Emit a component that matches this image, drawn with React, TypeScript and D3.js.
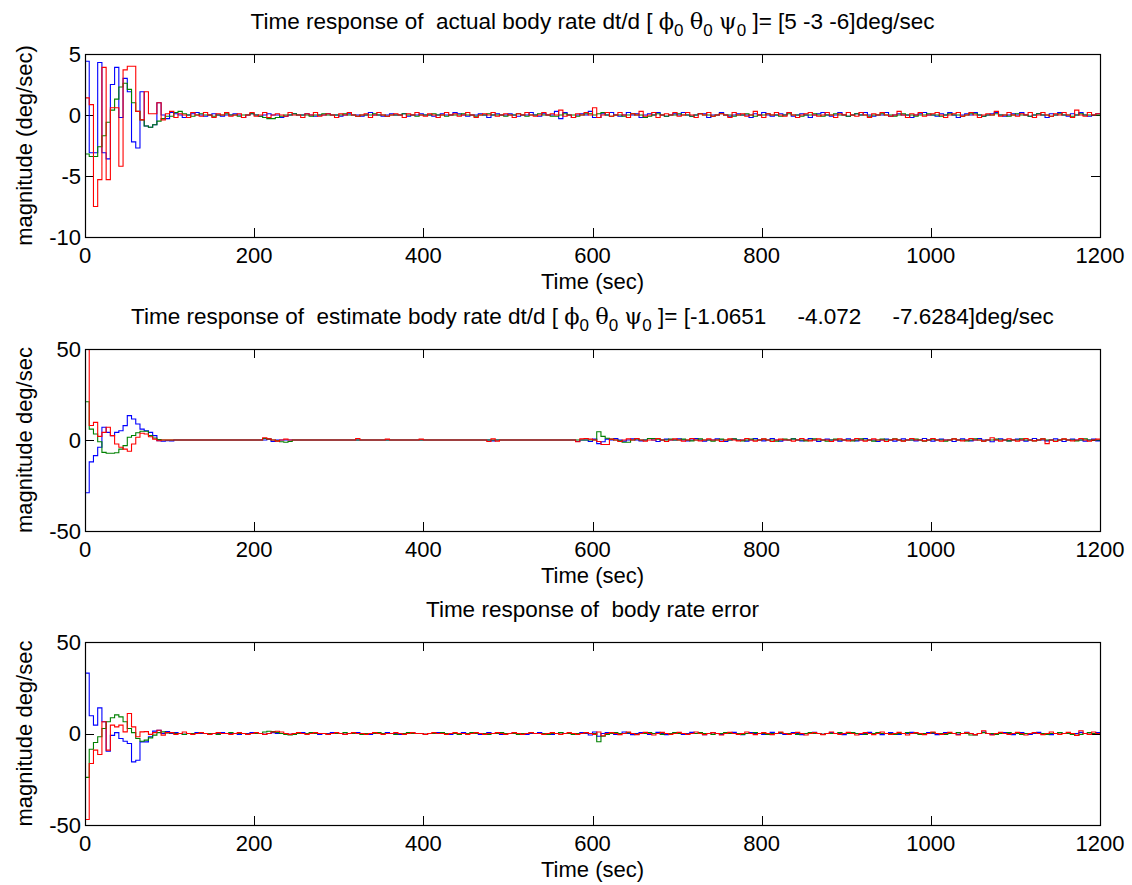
import React from "react";
import * as d3 from "d3";

const width = 1132;
const height = 885;
const plotLeft = 85;
const plotRight = 1100;
const tickLen = 9;
const dt = 5; // sample period of the stairs (sec)
const tMax = 1200;

const xTicks = [0, 200, 400, 600, 800, 1000, 1200];
const actualTicks = [5, 0, -5, -10];
const estimateTicks = [50, 0, -50];
const errorTicks = [50, 0, -50];

const seriesColors = ["#0000ff", "#008000", "#ff0000"];

// ---- actual body rate (deg/sec), one value every 5 s ----
const actualBlue = [
  4.4, -3.1, -3.1, 4.3, -3.1, -3.6, 2.5, 3.9, -0.2, 3.0, 1.9, -2.2, -2.7, 1.9, -0.9, -1.0, -0.8, 1.0, 0, -0.3,
  0.2, 0.1, 0, -0.2, 0, 0.1, 0.2, 0, -0.1, 0, 0.1, 0, -0.1, 0, 0, 0.1, 0, -0.2, 0, 0.1,
  0, -0.1, 0, 0.1, 0, 0, -0.2, -0.1, 0, 0.1, 0, 0, 0.1, 0, -0.1, 0, 0, 0.1, 0, 0,
  -0.1, 0, 0.1, 0, 0, -0.1, 0, 0.2, 0, 0, -0.1, 0, 0.1, 0, 0, 0.1, -0.1, 0, 0, 0.1,
  0, 0, -0.1, 0, 0.1, 0, 0, 0.2, 0.1, 0, -0.1, 0, 0, 0.1, 0, -0.2, 0, 0.1, 0, 0,
  0.1, 0, -0.1, 0, 0, 0.2, 0, -0.1, 0.1, 0, 0, 0.3, -0.3, 0.2, 0, -0.2, 0, 0.1, 0, 0.3,
  -0.2, -0.2, 0.1, 0, 0.2, 0, -0.1, 0, 0.2, 0, 0.1, -0.2, 0, 0.1, 0, 0.2, 0, -0.1, 0, 0.1,
  0, 0.2, 0, -0.1, 0, 0.1, 0.1, -0.2, 0, 0, 0.2, 0, -0.1, 0, 0.1, 0, 0, -0.2, 0.1, 0,
  0.2, 0, -0.1, 0, 0.1, 0, 0.2, -0.1, 0, 0.1, 0, -0.2, 0, 0.1, 0.2, 0, -0.1, 0, 0.2, 0,
  -0.1, 0, 0.1, 0, 0.2, 0, -0.1, 0, 0, 0.2, -0.1, 0, 0.1, 0, 0, -0.2, 0, 0.1, 0.2, 0,
  0, -0.1, 0.1, 0, 0.2, 0, -0.2, 0, 0.1, 0, 0.2, 0, -0.1, 0, 0.1, 0.2, 0, -0.1, 0, 0.1,
  0, 0.2, 0, -0.1, 0, 0.1, 0, -0.2, 0.1, 0, 0.2, 0, -0.1, 0.1, 0, 0.2, 0, -0.1, 0, 0.1,
];
const actualGreen = [
  -3.2, -3.4, -3.4, -2.6, -1.7, -0.6, 0.4, 1.3, 2.3, 2.6, 2.1, 1.0, 0.3, -0.4, -0.9, -1.0, -0.8, -0.5, -0.3, -0.1,
  -0.1, 0.2, 0.3, 0.1, 0, -0.1, 0, 0.1, 0, 0, -0.1, 0, 0, 0.1, 0, 0, -0.1, 0, 0, 0.1,
  0, -0.1, -0.2, -0.3, -0.3, -0.2, -0.1, 0, 0, 0.1, 0, 0, 0, -0.1, 0, 0, 0.1, 0, 0, 0,
  0, 0.1, 0, 0, -0.1, 0, 0, 0, 0.1, 0, 0, -0.1, 0, 0, 0, 0.1, 0, 0, -0.1, 0,
  0, 0, 0.1, 0, 0, -0.1, 0, 0, 0, 0.1, 0, 0, -0.1, 0, 0, 0.1, 0, 0, 0, -0.1,
  0, 0, 0.1, 0, -0.1, 0, 0, 0.1, 0, 0, -0.1, -0.1, 0, 0.1, 0, 0, -0.1, 0, 0.1, 0.1,
  0, 0.1, 0.2, 0, -0.1, 0, 0, -0.1, 0, 0.1, 0, 0, -0.2, -0.1, 0, 0.1, 0, -0.1, 0, 0,
  0.1, 0, 0, -0.1, 0, 0.1, 0, 0, -0.1, 0, 0.1, 0, 0, -0.1, 0, 0, 0.1, 0, -0.1, 0,
  0, 0.1, 0, 0, -0.1, 0, 0.1, 0, 0, -0.1, 0, 0, 0.1, 0, -0.1, 0, 0, 0.1, 0, 0,
  -0.1, 0, 0.1, 0, 0, -0.1, 0, 0, 0.1, 0, 0, -0.1, 0, 0.1, 0, 0, -0.1, 0, 0, 0.1,
  0, 0, -0.1, 0, 0.1, 0, 0, -0.1, 0, 0.1, 0.1, 0, -0.1, 0, 0, 0.1, 0, 0, -0.1, 0,
  0.1, 0, 0, -0.1, 0, 0.1, 0, 0, -0.1, 0, 0.1, 0, 0, -0.1, 0, 0.1, 0, 0, 0, 0,
];
const actualRed = [
  1.4, 0.85, -7.5, -5.3, 3.9, -5.3, 0.6, 0.6, -4.2, 3.7, 4.0, 4.0, 0.3, -0.4, 1.9, 0.1, 0.1, 1.0, -0.4, 0.1,
  0.3, -0.2, 0.1, 0, -0.2, 0.2, 0, -0.1, 0.2, 0, -0.2, 0.1, 0, 0.2, -0.1, 0, 0.1, -0.2, 0, 0.2,
  -0.1, 0, 0.2, -0.2, 0, 0.1, 0, -0.1, 0.2, 0, 0, -0.2, 0.1, 0, 0.2, -0.1, 0, 0.1, 0, -0.2,
  0.1, 0, 0.2, 0, -0.1, 0, 0.1, -0.2, 0, 0.2, 0, -0.1, 0, 0.1, 0, -0.2, 0.1, 0, 0.2, 0,
  -0.1, 0.1, 0, -0.2, 0, 0.2, 0, 0.1, -0.1, 0, 0.2, 0, -0.2, 0, 0.1, 0, 0.2, -0.1, 0, 0.1,
  0, -0.2, 0.1, 0, 0.2, 0, -0.1, 0, 0.2, 0, 0.1, 0, 0.4, -0.1, 0, -0.2, 0.1, 0, 0.2, 0,
  0.6, -0.2, 0, 0.2, -0.1, 0, 0.2, 0, -0.2, 0.1, 0, 0.3, -0.1, 0, 0.2, -0.2, 0, 0.1, 0, 0.2,
  -0.1, 0, 0.2, 0, -0.2, 0.1, 0, 0.2, -0.1, 0, 0.1, 0, -0.2, 0.2, 0, 0.1, -0.1, 0, 0.3, 0,
  -0.2, 0.1, 0, 0.2, 0, -0.1, 0.2, 0, -0.2, 0, 0.1, 0.2, 0, -0.1, 0, 0.2, 0, -0.2, 0.1, 0,
  0.2, 0, -0.1, 0.2, 0, -0.2, 0.1, 0, 0.2, 0, -0.1, 0, 0.3, 0, -0.2, 0.1, 0, 0.2, -0.1, 0,
  0.1, 0.2, 0, -0.2, 0, 0.1, 0.2, -0.1, 0, 0.2, 0, -0.2, 0, 0.1, 0, 0.3, -0.1, 0, 0.2, 0,
  -0.1, 0.1, 0, 0.2, -0.2, 0, 0.2, 0, -0.1, 0.1, 0, 0.2, 0, -0.2, 0.4, 0, -0.1, 0.2, 0, 0.1,
];

// ---- estimated body rate (deg/sec) ----
const estimateBlue = [
  -29, -12, -8.6, -4, 7, 4.2, 2.4, 4.2, 5.1, 7.9, 13.4, 11.5, 8.8, 6, 5.1, 4.2, 2.4, -0.4, -0.7, -0.4,
  -0.5, 0, 0, 0, 0, 0, 0, 0, 0, 0, 0, 0, 0, 0, 0, 0, 0, 0, 0, 0,
  0, 0, 0, 0.5, -0.8, 0, 0, 0, 0, 0, 0, 0, 0, 0, 0, 0, 0, 0, 0, 0,
  0, 0, 0, 0, 0, 0, 0, 0, 0, 0, 0, 0, 0, 0, 0, 0, 0, 0, 0, 0,
  0, 0, 0, 0, 0, 0, 0, 0, 0, 0, 0, 0, 0, 0, 0, 0, -0.5, 0, 0, 0,
  0, 0, 0, 0, 0, 0, 0, 0, 0, 0, 0, 0, 0, 0, 0, 0, -0.8, 0, 0, -0.8,
  0.5, -2, -1, 0.5, 0, 0.8, 0, -0.6, 0, 0.6, 0, -0.5, 0, 0.8, 0, -0.8, 0, 0.5, 0, 0,
  0.6, 0, -0.5, 0, 0.8, 0, -0.6, 0, 0, 0.6, 0, -0.8, 0, 0.5, 0, 0, -0.6, 0, 0.8, 0,
  -0.5, 0, 0.8, 0, -0.6, 0, 0, 0.6, 0, -0.5, 0, 0.8, 0, -0.8, 0, 0.5, 0, 0, -0.6, 0,
  0.6, 0, -0.5, 0, 0.8, 0, 0, -0.8, 0, 0.5, 0, -0.6, 0, 0.6, 0, 0, -0.5, 0, 0.8, 0,
  -0.6, 0, 0.5, 0, 0, -0.8, 0, 0.6, 0, -0.5, 0, 0.8, 0, 0, -1, 0, 0.6, 0, -0.5, 0,
  0.5, 0, -0.6, 0, 0.8, 0, 0, -0.5, 0, 0.6, 0, -0.8, 0, 0.5, 0, 0, -0.6, 0, 0.5, -0.5,
];
const estimateGreen = [
  21, 6, 3.3, -1, -6.8, -7.3, -7.3, -7, -5, -3.1, 1.5, 2.5, 4, 4.8, 4.8, 2.4, 1.1, 0.3, 0, 0,
  0, 0, 0, 0, 0, 0, 0, 0, 0, 0, 0, 0, 0, 0, 0, 0, 0, 0, 0, 0,
  0, 0, 0.8, 0.5, 0, -0.5, -1, -1.2, -0.8, 0, 0, 0, 0, 0, 0, 0, 0, 0, 0, 0,
  0, 0, 0, 0, 0, 0, 0, 0, 0, 0, 0, 0, 0, 0, 0, 0, 0, 0, 0, 0,
  0, 0, 0, 0, 0, 0, 0, 0, 0, 0, 0, 0, 0, 0, 0, 0, 0, 0, 0, 0,
  0, 0, 0, 0, 0, 0, 0, 0, 0, 0, 0, 0, 0, 0, 0, 0, 0, 0, 0, 0,
  0, 4.5, 2, 1, 0.5, 0, -0.5, -1.2, -1.2, 0, 0.6, 0, 0, 0.8, 0.8, 0.5, 0, 0, 0.5, 0,
  0, 0.5, 0, -0.5, 0, 0.6, 0, 0, -0.6, 0, 0.5, 0, 0, 0.6, 0, -0.5, 0, 0.5, 0, 0,
  0.5, 0, 0, -0.6, 0, 0.5, 0, 0.6, 0, 0, -0.5, 0, 0.6, 0, 0, -0.6, 0, 0.5, 0, 0,
  0, -0.5, 0, 0.6, 0, 0, -0.6, 0, 0.5, 0, 0, 0.6, 0, -0.5, 0, 0, 0.5, 0, -0.6, 0,
  0.5, 0, 0, -0.6, 0, 0.6, 0, 0, -0.5, 0, 0.6, 0, -0.6, 0, 0, 0.5, 0, 0, -0.5, 0,
  0, 0.6, 0, 0, -0.5, 0, 0.6, 0, 0, -0.6, 0, 0.5, 0, 0, -0.5, 0, 0.6, 0, 0, 0,
];
const estimateRed = [
  50, 8, 9.7, 2, 4.2, 7, 2.4, -2.2, -4, -5, -6.2, -2.2, 1.5, 3.7, 3.3, 1.8, 0.5, -0.4, 0, 0,
  0, 0, 0, 0, 0, 0, 0, 0, 0, 0, 0, 0, 0, 0, 0, 0, 0, 0, 0, 0,
  0, 0, 1.2, 0.6, 0, -0.6, 0, 0.5, 0, 0, 0, 0, 0, 0, 0, 0, 0, 0, 0, 0,
  0, 0, 0, 0, 0.8, 0, 0, 0, 0, 0, 0, 0.5, 0, 0, 0, 0, 0, 0, 0, 0.5,
  0, 0, 0, 0, 0, 0, 0, 0, 0, 0, 0, 0, 0, 0, 0, -0.8, 0.6, -0.6, 0, 0,
  0, 0, 0, 0, 0, 0, 0, 0, 0, 0, 0, 0, 0, 0, 0, 0, -1, 0.6, 0.8, 0.5,
  0, -0.8, -2.5, -2.5, 0.5, 0, -0.8, 0, 0.6, 0, 0.8, 0, -0.6, 0, 0, 0.8, 0, -0.8, 0, 0.6,
  0, -0.6, 0, 0.8, 0, -0.5, 0, 0.6, 0, 0, -0.8, 0, 0.6, 0, -0.5, 0, 0.8, 0, -0.6, 0,
  0.6, 0, -0.8, 0, 0.5, 0, 0, -0.6, 0, 0.8, 0, -0.5, 0, 0.6, 0, 0, -0.8, 0, 0.6, 0,
  -0.5, 0, 0.8, 0, -0.6, 0, 0.6, 0, 0, -0.8, 0, 0.5, 0, -0.6, 0, 0.8, 0, 0, -0.5, 0,
  0.8, 0, -0.6, 0, 0, 0.6, 0, -0.5, 0, 0.8, 0, 0, -0.6, 0, 1.2, 0, -0.6, 0, 0.6, 0,
  -0.6, 0, 0.8, 0, -0.5, 0, 0.6, -2, 0, -0.8, 0, 0.6, 0, -0.5, 0, 0.8, 0, -0.6, 0, 0.5,
];

// ---- body rate error (deg/sec) ----
const errorBlue = [
  33, 9.7, 4.6, 14, 6.4, -9.7, -1, 0.5, -2.7, -4.2, -5.5, -15.5, -14.6, -4.6, -4.6, -1.8, 1.3, 1.8, 0, 1,
  0, 0.5, 0, -0.5, 0, 0, 0.5, 0, 0, -0.5, 0, 0, 0.5, 0, 0, 0, -0.5, 0, 0, 0.5,
  0, 0, -0.5, 0, 0.5, 0, 0, 0, -0.5, 0, 0, 0.5, 0, 0, 0, -0.5, 0, 0, 0.5, 0,
  0, -0.5, 0, 0, 0.5, 0, 0, -0.5, 0, 0, 0, 0.5, 0, 0, -0.5, 0, 0, 0.5, 0, 0,
  -0.5, 0, 0, 0.5, 0, 0, -0.5, 0, 0, 0.5, 0, 0, 0, -0.5, 0, 0.5, 0, 0, -0.5, 0,
  0, 0.5, 0, 0, -0.5, 0, 0, 0.5, 0, 0, -0.5, 0, 0.5, 0, 0, -0.5, 0, 0.5, 0, -0.8,
  0.8, -1.5, 0, 0.5, 0, -0.5, 0, 0.8, 0, -0.6, 0, 0.5, 0, -0.5, 0, 0.6, 0, -0.6, 0, 0.5,
  0, -0.5, 0, 0.6, 0, 0, -0.6, 0, 0.5, 0, -0.5, 0, 0, 0.6, 0, -0.6, 0, 0.5, 0, 0,
  -0.5, 0, 0.6, 0, 0, -0.5, 0, 0.5, 0, -0.6, 0, 0, 0.6, 0, -0.5, 0, 0.5, 0, 0, -0.6,
  0, 0.5, 0, -0.5, 0, 0.6, 0, 0, -0.6, 0, 0.5, 0, -0.5, 0, 0, 0.6, 0, -0.5, 0, 0.5,
  0, -0.6, 0, 0.5, 0, 0, -0.5, 0, 0.6, 0, -0.6, 0, 0.8, 0, -0.5, 0, 0, 0.5, 0, -0.6,
  0, 0.5, 0, -0.5, 0, 0.6, 0, 0, -0.6, 0, 0.5, 0, 0, -0.5, 0, 0.6, 0, -0.5, 0, 0.5,
];
const errorGreen = [
  -24, -8.6, -4.9, -1.8, 2.7, 6.4, 8.6, 10.2, 9.1, 6.4, 2.7, 0.5, -2.7, -4.2, -3.6, -2.4, -0.9, 0.5, 0.9, 0.3,
  0.5, 0, 0, -0.5, 0, 0, 0, 0.5, 0, 0, 0, -0.5, 0, 0, 0.5, 0, 0, 0, -0.5, 0,
  0, 0, 0.8, 1.2, 1, 0.6, 0, -0.5, -0.8, -0.5, 0, 0, 0, 0.5, 0, 0, 0, -0.5, 0, 0,
  0, 0.5, 0, 0, 0, -0.5, 0, 0, 0, 0.5, 0, 0, 0, -0.5, 0, 0, 0.5, 0, 0, 0,
  -0.5, 0, 0, 0, 0.5, 0, 0, 0, -0.5, 0, 0, 0.5, 0, 0, 0, -0.5, 0, 0, 0.5, 0,
  0, 0, -0.5, 0, 0, 0.5, 0, 0, 0, -0.5, 0, 0, 0.5, 0, 0, -0.5, 0, 0, 0.5, 0,
  0, -4.5, -1.5, -0.5, 0, 0.5, 0, 0, 0.5, 0, -0.5, 0, 0, 0.5, 0, 0, -0.5, 0, 0, 0.5,
  0, 0, -0.5, 0, 0, 0.5, 0, 0, -0.5, 0, 0, 0.5, 0, 0, 0, -0.5, 0, 0, 0.5, 0,
  0, -0.5, 0, 0, 0.5, 0, 0, 0, -0.5, 0, 0, 0.5, 0, 0, -0.5, 0, 0, 0, 0.5, 0,
  0, 0.5, 0, 0, -0.5, 0, 0, 0.5, 0, 0, 0, -0.5, 0, 0, 0.5, 0, 0, -0.5, 0, 0,
  0.5, 0, 0, -0.5, 0, 0, 0.5, 0, 0, -0.8, -0.8, 0, 0.5, 0, 0, -0.5, 0, 0, 0.5, 0,
  0, -0.5, 0, 0, 0.5, 0, 0, -0.5, 0, 0, 0.5, 0, 0, -0.5, -1, -0.5, 0, 0.5, 0, 0,
];
const errorRed = [
  -47, -16.4, -9.1, -11.5, 6.4, -9.1, 4.6, 3.6, 4.6, 0.9, 10.9, 3.6, -1.8, 0.9, 1.0, -0.5, 0.5, 1.8, -0.9, 0.5,
  0.5, -0.5, 0, 0.8, 0, -0.5, 0, 0.5, 0, -0.5, 0, 0.5, 0, 0, -0.5, 0, 0.5, 0, -0.5, 0,
  0.5, 0, -0.5, 0, 0.8, 1.2, 0.8, 0, -0.5, 0, 0.5, 0, -0.5, 0, 0.5, 0, 0, -0.5, 0, 0.5,
  0, -0.5, 0, 0.5, 0, 0, -0.5, 0, 0.5, 0, -0.5, 0, 0, 0.5, 0, -0.5, 0, 0.5, 0, 0,
  -0.5, 0, 0.5, 0, 0, -0.5, 0, 0.5, 0, 0, -0.5, 0, 0.5, 0, -0.5, 0, 0, 0.5, 0, -0.5,
  0, 0.5, 0, -0.5, 0, 0.5, 0, 0, -0.5, 0, 0.5, 0, -0.5, 0, 0.5, 0, -0.5, 0, 0.5, 0,
  -0.5, 0.8, -1.2, 0, 0.5, 0, -0.6, 0, 0.8, 0, -0.6, 0, 0.6, 0, -0.8, 0, 0.6, 0, -0.5, 0,
  0.6, 0, -0.5, 0, 0.8, 0, -0.6, 0, 0.5, 0, -0.8, 0, 0.6, 0, -0.5, 0, 0.8, 0, -0.6, 0,
  0.5, 0, -0.6, 0, 0.8, 0, -0.5, 0, 0.6, 0, -0.8, 0, 0.5, 0, -0.6, 0, 0.8, 0, -0.5, 0,
  0.6, 0, -0.8, 0, 0.5, 0, -0.6, 0, 0.8, 0, -0.5, 0, 0.6, 0, -0.8, 0, 0.5, 0, -0.6, 0,
  0.8, 0, -0.5, 0, 0.6, 0, -0.8, 0, 0.5, 0, -0.6, 0, 1.5, 0, -0.8, 0, 0.6, 0, -0.5, 0,
  0.6, 0, -0.8, 0, 0.5, 0, -0.6, 0, 0.8, 0, -0.5, 0, 0.6, 0, -1, 1.5, 0, -0.5, 0.8, 0,
];

const fontFamily = "'Liberation Sans', Arial, Helvetica, sans-serif";
const greekFamily = "'DejaVu Serif', 'Liberation Serif', serif";

type Panel = {
  top: number;
  bottom: number;
  domain: [number, number];
  ticks: number[];
  ylabel: string;
  series: number[][];
  title: "actual" | "estimate" | "error";
};

const panels: Panel[] = [
  { top: 54, bottom: 237, domain: [-10, 5], ticks: actualTicks, ylabel: "magnitude (deg/sec)", series: [actualBlue, actualGreen, actualRed], title: "actual" },
  { top: 349, bottom: 531, domain: [-50, 50], ticks: estimateTicks, ylabel: "magnitude deg/sec", series: [estimateBlue, estimateGreen, estimateRed], title: "estimate" },
  { top: 642, bottom: 825, domain: [-50, 50], ticks: errorTicks, ylabel: "magnitude deg/sec", series: [errorBlue, errorGreen, errorRed], title: "error" },
];

const x = d3.scaleLinear().domain([0, tMax]).range([plotLeft, plotRight]);

function BodyRateTitle({ kind, y }: { kind: string; y: number }) {
  // greek letter followed by a lowered "0"
  const sub = (s: string) => [
    <tspan key={s + "g"} fontFamily={greekFamily}>{s}</tspan>,
    <tspan key={s + "s"} dy={7} fontSize={17}>0</tspan>,
    <tspan key={s + "r"} dy={-7}> </tspan>,
  ];
  if (kind === "error") {
    return (
      <text x={(plotLeft + plotRight) / 2} y={y} textAnchor="middle" fontSize={22.5} style={{ whiteSpace: "pre" }}>
        {"Time response of  body rate error"}
      </text>
    );
  }
  const head = kind === "actual" ? "Time response of  actual body rate dt/d [ " : "Time response of  estimate body rate dt/d [ ";
  const tail = kind === "actual" ? "]= [5 -3 -6]deg/sec" : "]= [-1.0651     -4.072     -7.6284]deg/sec";
  return (
    <text x={(plotLeft + plotRight) / 2} y={y} textAnchor="middle" fontSize={22.5} style={{ whiteSpace: "pre" }}>
      <tspan>{head}</tspan>
      {sub("\u03D5")}
      {sub("\u03B8")}
      {sub("\u03C8")}
      <tspan>{tail}</tspan>
    </text>
  );
}

function PanelView({ p, idx }: { p: Panel; idx: number }) {
  const y = d3.scaleLinear().domain(p.domain).range([p.bottom, p.top]);
  const line = d3
    .line<[number, number]>()
    .x((d) => x(d[0]))
    .y((d) => y(d[1]))
    .curve(d3.curveStepAfter);
  const clipId = `clip${idx}`;
  const midY = (p.top + p.bottom) / 2;
  return (
    <g>
      <clipPath id={clipId}>
        <rect x={plotLeft} y={p.top} width={plotRight - plotLeft + 1} height={p.bottom - p.top + 1} />
      </clipPath>
      <BodyRateTitle kind={p.title} y={p.top - 25} />
      {/* ticks point inward, on all four sides */}
      {xTicks.map((t) => (
        <g key={"xt" + t} stroke="#000" strokeWidth={1}>
          <line x1={Math.round(x(t)) + 0.5} x2={Math.round(x(t)) + 0.5} y1={p.bottom} y2={p.bottom - tickLen} />
          <line x1={Math.round(x(t)) + 0.5} x2={Math.round(x(t)) + 0.5} y1={p.top} y2={p.top + tickLen} />
        </g>
      ))}
      {p.ticks.map((t) => (
        <g key={"yt" + t} stroke="#000" strokeWidth={1}>
          <line x1={plotLeft} x2={plotLeft + tickLen} y1={Math.round(y(t)) + 0.5} y2={Math.round(y(t)) + 0.5} />
          <line x1={plotRight} x2={plotRight - tickLen} y1={Math.round(y(t)) + 0.5} y2={Math.round(y(t)) + 0.5} />
        </g>
      ))}
      <g clipPath={`url(#${clipId})`}>
        {p.series.map((vals, i) => {
          const pts: [number, number][] = vals.map((v, k) => [k * dt, v] as [number, number]);
          pts.push([tMax, vals[vals.length - 1]]);
          return <path key={i} d={line(pts) ?? ""} fill="none" stroke={seriesColors[i]} strokeWidth={1.1} />;
        })}
      </g>
      <rect
        x={plotLeft + 0.5}
        y={p.top + 0.5}
        width={plotRight - plotLeft}
        height={p.bottom - p.top}
        fill="none"
        stroke="#000"
        strokeWidth={1.2}
      />
      {xTicks.map((t) => (
        <text key={"xl" + t} x={x(t)} y={p.bottom + 26} textAnchor="middle">
          {t}
        </text>
      ))}
      {p.ticks.map((t) => (
        <text key={"yl" + t} x={plotLeft - 4} y={y(t)} dy="0.36em" textAnchor="end">
          {t}
        </text>
      ))}
      <text x={(plotLeft + plotRight) / 2} y={p.bottom + 52} textAnchor="middle">
        Time (sec)
      </text>
      <text transform={`translate(32,${midY}) rotate(-90)`} textAnchor="middle">
        {p.ylabel}
      </text>
    </g>
  );
}

export default function App() {
  return (
    <svg
      width={width}
      height={height}
      style={{ position: "absolute", left: 0, top: 0, background: "#fff" }}
      fontFamily={fontFamily}
      fontSize={22}
      fill="#000"
    >
      <rect width={width} height={height} fill="#fff" />
      {panels.map((p, i) => (
        <PanelView key={i} p={p} idx={i} />
      ))}
    </svg>
  );
}
